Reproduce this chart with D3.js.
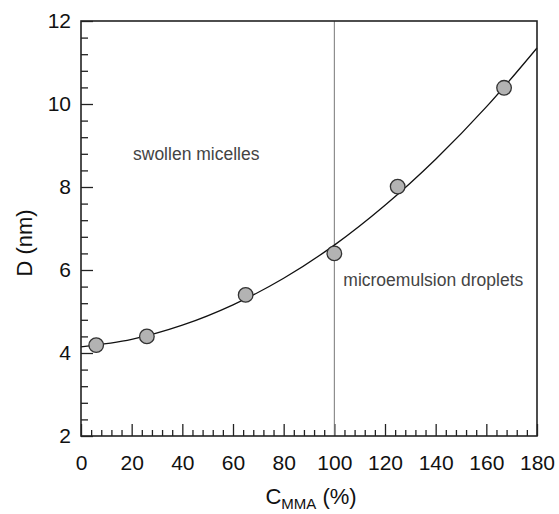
<!DOCTYPE html>
<html>
<head>
<meta charset="utf-8">
<script src="https://cdn.jsdelivr.net/npm/d3@7"></script>
<style>
  body { margin: 0; background: #fff; }
  svg { font-family: "Liberation Sans", Arial, sans-serif; }
</style>
</head>
<body>
<svg id="chart" width="559" height="514"></svg>
<script>
// measured points, C_MMA (%) vs D (nm)
var concentration = [6, 26, 65, 100, 125, 167];
var diameter = [4.19, 4.40, 5.40, 6.40, 8.01, 10.39];

// fitted curve, every 20 %
var fitX = [0, 20, 40, 60, 80, 100, 120, 140, 160, 180];
var fitY = [4.15, 4.33, 4.67, 5.16, 5.80, 6.60, 7.56, 8.67, 9.93, 11.35];

var xTicks = [0, 20, 40, 60, 80, 100, 120, 140, 160, 180];
var yTicks = [2, 4, 6, 8, 10, 12];
var boundary = 100;

var margin = {left: 81, top: 21, right: 22, bottom: 78},
    width = 559 - margin.left - margin.right,
    height = 514 - margin.top - margin.bottom;

var svg = d3.select('#chart');
var g = svg.append('g').attr('transform', 'translate(' + margin.left + ',' + margin.top + ')');

var x = d3.scaleLinear().domain([0, 180]).range([0, width]);
var y = d3.scaleLinear().domain([2, 12]).range([height, 0]);

var xMinor = d3.range(0, 181, 4).filter(function(v) { return v % 20 != 0 });
var yMinor = d3.range(0, 26).map(function(i) { return 2 + i * 0.4 }).filter(function(v) { return Math.abs(v / 2 - Math.round(v / 2)) > 0.01 });

// minor ticks
g.append('g')
    .attr('transform', 'translate(0,' + height + ')')
    .call(d3.axisBottom(x).tickValues(xMinor).tickSize(-6).tickFormat(''))
    .call(function(s) { s.select('.domain').remove() });

g.append('g')
    .call(d3.axisLeft(y).tickValues(yMinor).tickSize(-7).tickFormat(''))
    .call(function(s) { s.select('.domain').remove() });

// major ticks with labels
var xAxis = g.append('g')
    .attr('transform', 'translate(0,' + height + ')')
    .call(d3.axisBottom(x).tickValues(xTicks).tickSize(-12).tickPadding(19));
xAxis.select('.domain').remove();
xAxis.selectAll('text').attr('font-size', 21).attr('fill', '#111').attr('font-family', '"Liberation Sans", Arial, sans-serif');

var yAxis = g.append('g')
    .call(d3.axisLeft(y).tickValues(yTicks).tickSize(-12).tickPadding(10));
yAxis.select('.domain').remove();
yAxis.selectAll('text').attr('font-size', 21).attr('fill', '#111').attr('font-family', '"Liberation Sans", Arial, sans-serif');

g.selectAll('.tick line').attr('stroke', '#222').attr('stroke-width', 1.3);

// region boundary
g.append('line')
    .attr('x1', x(boundary)).attr('x2', x(boundary))
    .attr('y1', 0).attr('y2', height)
    .attr('stroke', '#777').attr('stroke-width', 1);

// fitted curve
var line = d3.line()
    .x(function(d, i) { return x(fitX[i]) })
    .y(function(d) { return y(d) })
    .curve(d3.curveCatmullRom);

g.append('path')
    .datum(fitY)
    .attr('d', line)
    .attr('fill', 'none')
    .attr('stroke', '#111')
    .attr('stroke-width', 1.3);

// points
g.selectAll('circle.pt')
    .data(diameter)
    .enter()
    .append('circle')
    .attr('class', 'pt')
    .attr('cx', function(d, i) { return x(concentration[i]) })
    .attr('cy', function(d) { return y(d) })
    .attr('r', 7.3)
    .attr('fill', '#b3b3b3')
    .attr('stroke', '#333')
    .attr('stroke-width', 1.3);

// frame
g.append('rect')
    .attr('width', width).attr('height', height)
    .attr('fill', 'none')
    .attr('stroke', '#222').attr('stroke-width', 1.6);

// region labels
g.append('text')
    .attr('x', 52).attr('y', 139)
    .attr('font-size', 17.5).attr('fill', '#444')
    .text('swollen micelles');

g.append('text')
    .attr('x', x(boundary) + 9).attr('y', 265)
    .attr('font-size', 17.5).attr('fill', '#444')
    .text('microemulsion droplets');

// axis titles
svg.append('text')
    .attr('transform', 'translate(32,243) rotate(-90)')
    .attr('text-anchor', 'middle')
    .attr('font-size', 22).attr('fill', '#111')
    .text('D (nm)');

var xt = svg.append('text')
    .attr('x', margin.left + width / 2 + 2).attr('y', 504)
    .attr('text-anchor', 'middle')
    .attr('font-size', 22).attr('fill', '#111');
xt.append('tspan').text('C');
xt.append('tspan').attr('font-size', 15).attr('dy', 5).text('MMA');
xt.append('tspan').attr('dy', -5).text(' (%)');
</script>
</body>
</html>
